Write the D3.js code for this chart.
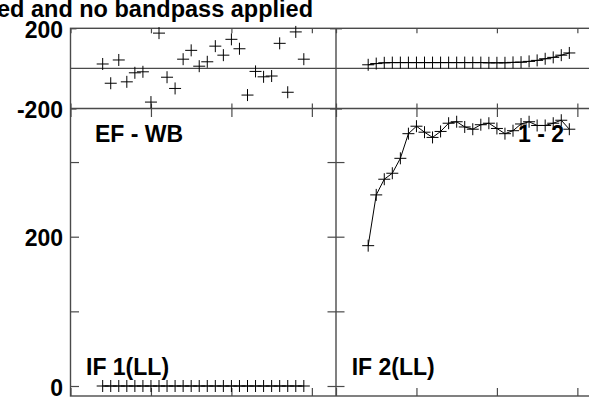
<!DOCTYPE html>
<html><head><meta charset="utf-8">
<script src="https://cdn.jsdelivr.net/npm/d3@7"></script>
<style>
body{margin:0;background:#fff}
svg{display:block}
text{font-family:"Liberation Sans",Arial,Helvetica,sans-serif;font-weight:bold;fill:#000}
</style>
</head><body>
<svg id="c" width="589" height="399"></svg>
<script>
// ---------------- data ----------------
const channels  = [4,5,6,7,8,9,10,11,12,13,14,15,16,17,18,19,20,21,22,23,24,25,26,27,28,29];
const phaseIF1  = [22,-74,42,-67,-22,-17,-168,176,-44,-100,46,90,11,33,111,66,145,98,-133,-15,-42,-38,125,-119,182,46];
const ampIF1    = [0,0,0,0,0,0,0,0,0,0,0,0,0,0,0,0,0,0,0,0,0,0,0,0,0,0];
const phaseIF2  = [18,24,28,29,29,29,29,29,29,29,29,29,29,29,29,28,28,28,30,31,35,40,48,55,66,77];
const ampIF2    = [188,256,277,285,305,338,348,340,333,341,352,354,347,344,350,352,345,338,342,351,354,349,349,352,356,344];
const phaseTicks      = [-200,200];
const phaseTickLabels = [-200,200];
const ampTicks        = [0,100,200,300];
const ampTickLabels   = [0,200];
const chanTicks       = [0,10,20,30];
const titleText   = "ed and no bandpass applied";
const baselineLbl = ["EF - WB", "1 - 2"];
const ifLabels    = ["IF 1(LL)", "IF 2(LL)"];

// ---------------- layout ----------------
const L = 70.5, M = 336, R = 601.5, T = 28.3, S = 108.5, B = 396;
const svg = d3.select("#c");
const frame = "#4a4a4a";

const xL = d3.scaleLinear().domain([0,33]).range([L,M]);
const xR = d3.scaleLinear().domain([0,33]).range([M,R]);
const yP = d3.scaleLinear().domain([-200,200]).range([S,T]);
const yA = d3.scaleLinear().domain([0,400]).range([386,87.4]);

// frame lines
const g = svg.append("g").attr("stroke",frame).attr("stroke-width",1.4).attr("fill","none");
g.append("rect").attr("x",L).attr("y",T).attr("width",R-L).attr("height",B-T);
g.append("line").attr("x1",L).attr("x2",R).attr("y1",yP(0)).attr("y2",yP(0));
g.append("line").attr("x1",L).attr("x2",R).attr("y1",S).attr("y2",S);
g.append("line").attr("x1",M).attr("x2",M).attr("y1",T).attr("y2",B);

function styleAxis(sel){
  sel.select(".domain").remove();
  sel.selectAll(".tick line").attr("stroke",frame).attr("stroke-width",1.2);
}
function addAxis(axis, tx, ty){
  const a = svg.append("g").attr("transform",`translate(${tx},${ty})`).call(axis);
  styleAxis(a);
  return a;
}
const fmt = d => String(d);
// left tick labels
const lab1 = addAxis(d3.axisLeft(yP).tickValues(phaseTickLabels).tickSize(0).tickPadding(7.5).tickFormat(fmt), L, 0);
const lab2 = addAxis(d3.axisLeft(yA).tickValues(ampTickLabels).tickSize(0).tickPadding(7.5).tickFormat(fmt), L, 0);
[lab1,lab2].forEach(a=>a.selectAll("text").attr("font-size",23).attr("font-family",null).attr("dy","0.4em").attr("fill","#000"));
// inner ticks, left axis
addAxis(d3.axisRight(yA).tickValues(ampTicks).tickSize(8.5).tickFormat(""), L, 0);
addAxis(d3.axisRight(yP).tickValues(phaseTicks).tickSize(6).tickFormat(""), L, 0);
// middle axis crossing ticks
addAxis(d3.axisRight(yA).tickValues(ampTicks).tickSize(8.5).tickFormat(""), M, 0);
addAxis(d3.axisLeft(yA).tickValues(ampTicks).tickSize(8.5).tickFormat(""), M, 0);
addAxis(d3.axisRight(yP).tickValues(phaseTicks).tickSize(6).tickFormat(""), M, 0);
addAxis(d3.axisLeft(yP).tickValues(phaseTicks).tickSize(6).tickFormat(""), M, 0);
// x ticks for both panels
[xL,xR].forEach(x=>{
  addAxis(d3.axisTop(x).tickValues(chanTicks).tickSize(8).tickFormat(""), 0, B);
  addAxis(d3.axisBottom(x).tickValues(chanTicks).tickSize(5).tickFormat(""), 0, T);
  addAxis(d3.axisTop(x).tickValues(chanTicks).tickSize(5).tickFormat(""), 0, S);
  addAxis(d3.axisBottom(x).tickValues(chanTicks).tickSize(8.5).tickFormat(""), 0, S);
});

// data marks
const crossPath = "M-6,0H6M0,-6V6";
function plot(x, y, vals, withLine){
  const pts = channels.map((c,i)=>[x(c), y(vals[i])]);
  if(withLine){
    svg.append("path").attr("d", d3.line()(pts)).attr("fill","none").attr("stroke","#000").attr("stroke-width",1);
  }
  svg.append("g").selectAll("path").data(pts).join("path")
    .attr("d",crossPath).attr("transform",d=>`translate(${d[0]},${d[1]})`)
    .attr("stroke","#000").attr("stroke-width",1).attr("fill","none");
}
plot(xL, yP, phaseIF1, false);
plot(xL, yA, ampIF1, true);
plot(xR, yP, phaseIF2, true);
plot(xR, yA, ampIF2, true);

// texts
svg.append("text").attr("x",313).attr("y",17).attr("text-anchor","end").attr("font-size",23.5).text(titleText);
svg.append("text").attr("x",L+24.5).attr("y",142).attr("font-size",23).text(baselineLbl[0]);
svg.append("text").attr("x",564).attr("y",142).attr("text-anchor","end").attr("font-size",23).text(baselineLbl[1]);
svg.append("text").attr("x",L+15.5).attr("y",375).attr("font-size",23).text(ifLabels[0]);
svg.append("text").attr("x",M+15.7).attr("y",375).attr("font-size",23).text(ifLabels[1]);
</script>
</body></html>
